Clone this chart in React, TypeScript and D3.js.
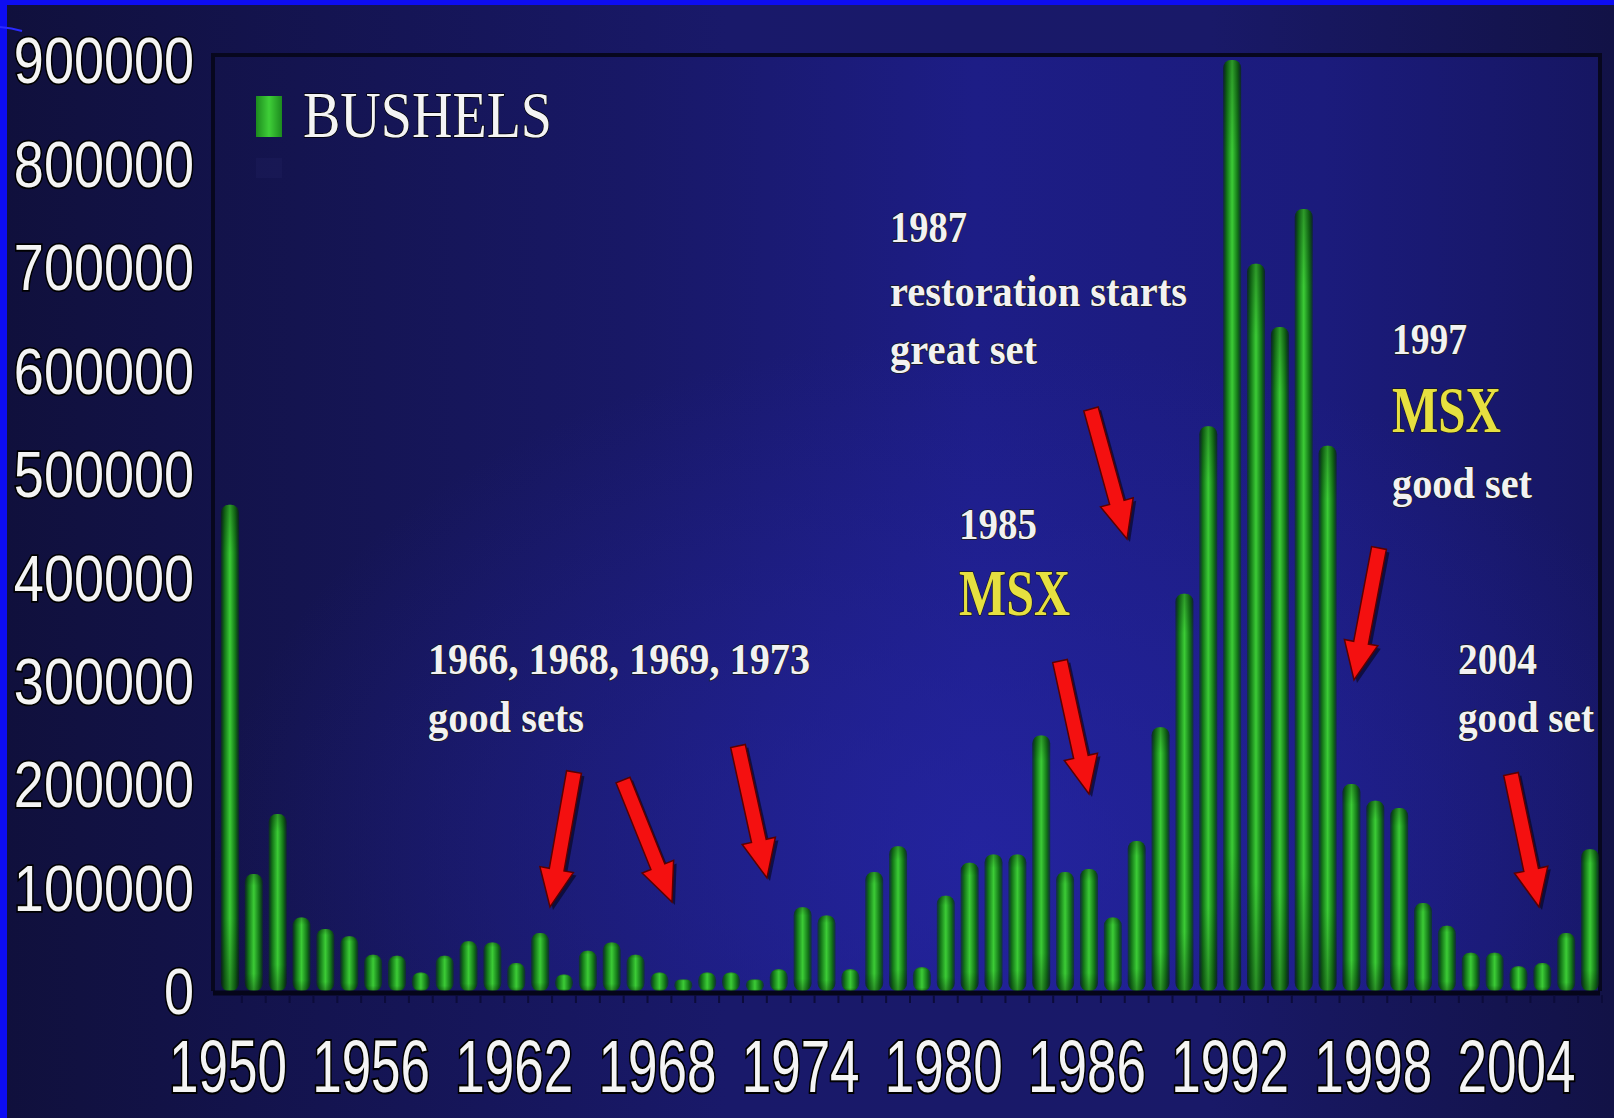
import React from "react";
import * as d3 from "d3";

const years: number[] = [
  1950, 1951, 1952, 1953, 1954, 1955, 1956, 1957, 1958, 1959,
  1960, 1961, 1962, 1963, 1964, 1965, 1966, 1967, 1968, 1969,
  1970, 1971, 1972, 1973, 1974, 1975, 1976, 1977, 1978, 1979,
  1980, 1981, 1982, 1983, 1984, 1985, 1986, 1987, 1988, 1989,
  1990, 1991, 1992, 1993, 1994, 1995, 1996, 1997, 1998, 1999,
  2000, 2001, 2002, 2003, 2004, 2005, 2006, 2007,
];

const bushels: number[] = [
  470000, 113000, 171000, 71000, 60000, 53000, 35000, 34000, 18000, 34000,
  48000, 47000, 27000, 56000, 16000, 39000, 47000, 35000, 18000, 11000,
  18000, 18000, 11000, 21000, 81000, 73000, 21000, 115000, 140000, 23000,
  92000, 124000, 132000, 132000, 247000, 115000, 118000, 71000, 145000, 255000,
  384000, 546000, 900000, 703000, 642000, 756000, 527000, 200000, 184000, 177000,
  85000, 63000, 37000, 37000, 24000, 27000, 56000, 137000,
];

const xTickYears: number[] = [1950, 1956, 1962, 1968, 1974, 1980, 1986, 1992, 1998, 2004];
const yTickValues: number[] = [0, 100000, 200000, 300000, 400000, 500000, 600000, 700000, 800000, 900000];
const legendLabel = "BUSHELS";

type Note = { text: string; x: number; y: number; w: number; size: number; color: string };

const notes: Note[] = [
  { text: "1966, 1968, 1969, 1973", x: 428, y: 674, w: 382, size: 45, color: "#f2f2f2" },
  { text: "good sets", x: 428, y: 732, w: 156, size: 45, color: "#f2f2f2" },
  { text: "1987", x: 890, y: 242, w: 77, size: 45, color: "#f2f2f2" },
  { text: "restoration starts", x: 890, y: 306, w: 297, size: 45, color: "#f2f2f2" },
  { text: "great set", x: 890, y: 364, w: 147, size: 45, color: "#f2f2f2" },
  { text: "1985", x: 959, y: 539, w: 78, size: 45, color: "#f2f2f2" },
  { text: "MSX", x: 959, y: 615, w: 111, size: 66, color: "#e6e040" },
  { text: "1997", x: 1392, y: 354, w: 75, size: 45, color: "#f2f2f2" },
  { text: "MSX", x: 1392, y: 432, w: 109, size: 66, color: "#e6e040" },
  { text: "good set", x: 1392, y: 498, w: 140, size: 45, color: "#f2f2f2" },
  { text: "2004", x: 1458, y: 674, w: 79, size: 45, color: "#f2f2f2" },
  { text: "good set", x: 1458, y: 732, w: 136, size: 45, color: "#f2f2f2" },
];

const arrows: [number, number, number, number][] = [
  [574, 772, 550, 907],
  [623, 780, 672, 902],
  [738, 746, 767, 878],
  [1091, 409, 1127, 539],
  [1060, 661, 1089, 794],
  [1379, 548, 1354, 680],
  [1511, 774, 1539, 907],
];

function arrowPath(x1: number, y1: number, x2: number, y2: number) {
  const dx = x2 - x1, dy = y2 - y1;
  const L = Math.hypot(dx, dy);
  const ux = dx / L, uy = dy / L;
  const nx = -uy, ny = ux;
  const sw = 15, hw = 34, hl = 38;
  const nX = x2 - ux * hl, nY = y2 - uy * hl;
  const pts = [
    [x1 + nx * sw / 2, y1 + ny * sw / 2],
    [nX + nx * sw / 2, nY + ny * sw / 2],
    [nX + nx * hw / 2, nY + ny * hw / 2],
    [x2, y2],
    [nX - nx * hw / 2, nY - ny * hw / 2],
    [nX - nx * sw / 2, nY - ny * sw / 2],
    [x1 - nx * sw / 2, y1 - ny * sw / 2],
  ];
  return "M" + pts.map((p) => p[0].toFixed(1) + "," + p[1].toFixed(1)).join("L") + "Z";
}

export default function App() {
  const W = 1614, H = 1118;
  const plot = { left: 213, right: 1600, top: 55, bottom: 991 };
  const x = d3.scaleBand<number>().domain(years).range([218, 1602]);
  const y = d3.scaleLinear().domain([0, 900000]).range([991, 60]);
  const bw = 18;
  const cx = (yr: number) => (x(yr) as number) + x.bandwidth() / 2;

  return (
    <div style={{ position: "fixed", left: 0, top: 0, width: W, height: H }}>
      <svg width={W} height={H} viewBox={`0 0 ${W} ${H}`} style={{ display: "block" }}>
        <defs>
          <linearGradient id="bg" x1="0" x2="1" y1="0" y2="0">
            <stop offset="0" stopColor="#10103c" />
            <stop offset="0.45" stopColor="#19196a" />
            <stop offset="0.75" stopColor="#191968" />
            <stop offset="1" stopColor="#121246" />
          </linearGradient>
          <linearGradient id="plotbg" x1="0" x2="1" y1="0" y2="0">
            <stop offset="0" stopColor="#13134a" />
            <stop offset="0.3" stopColor="#181866" />
            <stop offset="0.55" stopColor="#1d1d86" />
            <stop offset="0.8" stopColor="#1b1b7c" />
            <stop offset="1" stopColor="#161662" />
          </linearGradient>
          <radialGradient id="glow" cx="0.55" cy="0.85" r="0.55">
            <stop offset="0" stopColor="#2626a8" stopOpacity="0.7" />
            <stop offset="1" stopColor="#2626a8" stopOpacity="0" />
          </radialGradient>
          <linearGradient id="bar" x1="0" x2="1" y1="0" y2="0">
            <stop offset="0" stopColor="#0a3a0e" stopOpacity="0.6" />
            <stop offset="0.18" stopColor="#117016" />
            <stop offset="0.5" stopColor="#3ccc36" />
            <stop offset="0.82" stopColor="#117016" />
            <stop offset="1" stopColor="#0a3a0e" stopOpacity="0.6" />
          </linearGradient>
          <linearGradient id="barShade" x1="0" x2="0" y1="0" y2="1">
            <stop offset="0" stopColor="#000" stopOpacity="0.25" />
            <stop offset="0.1" stopColor="#000" stopOpacity="0" />
            <stop offset="0.85" stopColor="#000" stopOpacity="0" />
            <stop offset="1" stopColor="#000" stopOpacity="0.3" />
          </linearGradient>
          <linearGradient id="legendSq" x1="0" x2="1" y1="0" y2="0">
            <stop offset="0" stopColor="#1c8a1e" />
            <stop offset="0.5" stopColor="#3fcf38" />
            <stop offset="1" stopColor="#1c8a1e" />
          </linearGradient>
        </defs>

        <rect x={0} y={0} width={W} height={H} fill="url(#bg)" />
        <rect x={0} y={0} width={W} height={5} fill="#0d0df2" />
        <rect x={0} y={0} width={7} height={H} fill="#0d0df2" />
        <path d="M0,27 Q12,28 22,31" stroke="#2a2aff" strokeWidth={2} fill="none" />

        <rect x={plot.left} y={plot.top} width={plot.right - plot.left} height={plot.bottom - plot.top} fill="url(#plotbg)" />
        <rect x={plot.left} y={plot.top} width={plot.right - plot.left} height={plot.bottom - plot.top} fill="url(#glow)" />
        <path
          d={`M${plot.left},${plot.bottom} V${plot.top} H${plot.right} V${plot.bottom}`}
          stroke="#07071e"
          strokeWidth={4}
          fill="none"
        />

        <rect x={256} y={96} width={26} height={41} fill="url(#legendSq)" />
        <rect x={256} y={158} width={26} height={20} fill="#1a1a58" opacity={0.6} />
        <text
          x={303}
          y={137}
          fontFamily="'Liberation Serif', 'Times New Roman', serif"
          fontSize={66}
          fill="#f4f4f4"
          stroke="#000"
          strokeWidth={1.5}
          paintOrder="stroke"
          textLength={249}
          lengthAdjust="spacingAndGlyphs"
        >
          {legendLabel}
        </text>

        {years.map((yr, i) => {
          const v = bushels[i];
          const top = y(v);
          const h = y(0) - top;
          const r = Math.min(8, h / 2);
          return (
            <g key={yr}>
              <rect x={cx(yr) - bw / 2} y={top} width={bw} height={h} rx={r} ry={r} fill="url(#bar)" />
              <rect x={cx(yr) - bw / 2} y={top} width={bw} height={h} rx={r} ry={r} fill="url(#barShade)" />
            </g>
          );
        })}

        <line x1={plot.left} x2={plot.right} y1={y(0) + 2} y2={y(0) + 2} stroke="#05051a" strokeWidth={5} />
        {years.map((yr) => (
          <line key={"t" + yr} x1={cx(yr) + x.bandwidth() / 2} x2={cx(yr) + x.bandwidth() / 2} y1={y(0) + 4} y2={y(0) + 12} stroke="#0c0c3a" strokeWidth={2} />
        ))}

        {yTickValues.map((v) => (
          <g key={"y" + v} transform={`translate(194,${y(v)}) scale(1,1.2)`}>
            <text
              x={0}
              y={0}
              dy="0.36em"
              textAnchor="end"
              fontFamily="'Liberation Sans', Arial, sans-serif"
              fontSize={54}
              fill="#f4f4f4"
              stroke="#000"
              strokeWidth={3}
              paintOrder="stroke"
            >
              {String(v)}
            </text>
          </g>
        ))}

        {xTickYears.map((yr) => (
          <g key={"x" + yr} transform={`translate(${cx(yr) - 2},1092) scale(1,1.4)`}>
            <text
              x={0}
              y={0}
              textAnchor="middle"
              fontFamily="'Liberation Sans', Arial, sans-serif"
              fontSize={53}
              fill="#f4f4f4"
              stroke="#000"
              strokeWidth={3}
              paintOrder="stroke"
            >
              {String(yr)}
            </text>
          </g>
        ))}

        {arrows.map((a, i) => (
          <g key={"a" + i}>
            <path d={arrowPath(a[0] + 3, a[1] + 3, a[2] + 3, a[3] + 3)} fill="#050515" opacity={0.6} />
            <path d={arrowPath(a[0], a[1], a[2], a[3])} fill="#f41010" stroke="#5a0000" strokeWidth={1.5} />
          </g>
        ))}

        {notes.map((n, i) => (
          <text
            key={"n" + i}
            x={n.x}
            y={n.y}
            fontFamily="'Liberation Serif', 'Times New Roman', serif"
            fontWeight="bold"
            fontSize={n.size}
            fill={n.color}
            stroke="#1a1a1a"
            strokeWidth={1.5}
            paintOrder="stroke"
            textLength={n.w}
            lengthAdjust="spacingAndGlyphs"
          >
            {n.text}
          </text>
        ))}
      </svg>
    </div>
  );
}
